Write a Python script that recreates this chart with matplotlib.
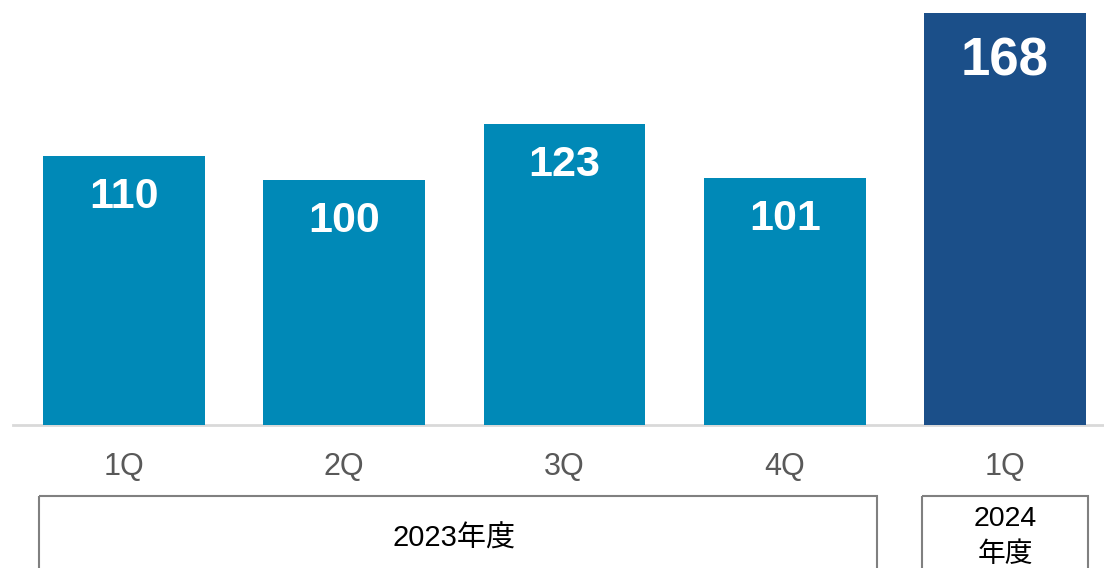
import matplotlib
matplotlib.use("Agg")
import matplotlib.pyplot as plt
from matplotlib.patches import Rectangle

plt.rcParams["font.family"] = ["Liberation Sans", "Noto Sans CJK JP"]

# ==============================
# DATA
# ==============================

quarters = ["1Q", "2Q", "3Q", "4Q", "1Q"]
values = [110, 100, 123, 101, 168]
bar_colors = ["#0089b7", "#0089b7", "#0089b7", "#0089b7", "#1b4f89"]

year_labels = [["2023年度"], ["2024", "年度"]]
year_spans = [(0, 3), (4, 4)]

# ==============================
# FIGURE
# ==============================

fig = plt.figure(figsize=(11.04, 5.68), dpi=100)
ax = fig.add_axes([0, 143 / 568, 1, 425 / 568])

x = list(range(len(values)))
ax.bar(x, values, width=0.735, color=bar_colors, zorder=2)

ax.set_xlim(-0.563, 4.4495)
ax.set_ylim(0, 173.5)
ax.axis("off")

# baseline
ax.plot([-0.504, 4.4495], [0, 0], color="#d9d9d9", lw=2, clip_on=False, zorder=1)

# value labels inside bars
for i, v in enumerate(values):
    last = i == len(values) - 1
    ax.text(i, v - (19.5 if last else 16.8), str(v), ha="center", va="center",
            color="white", fontsize=38 if last else 31, fontweight="bold")

# quarter labels
for i, q in enumerate(quarters):
    ax.text(i, -17.2, q, ha="center", va="center", color="#595959", fontsize=22)

# fiscal year boxes
box_edges = [(-0.386, 3.419), (3.623, 4.377)]
for (a, b), (left, right), lines in zip(year_spans, box_edges, year_labels):
    rect = Rectangle((left, -29.0), right - left, -40, fill=False,
                     edgecolor="#808080", lw=1.5, clip_on=False)
    ax.add_patch(rect)
    mid = (a + b) / 2
    if len(lines) == 1:
        ax.text(mid, -46.5, lines[0], ha="center", va="center",
                color="black", fontsize=21)
    else:
        ax.text(mid, -38.4, lines[0], ha="center", va="center",
                color="black", fontsize=20.5)
        ax.text(mid, -53.0, lines[1], ha="center", va="center",
                color="black", fontsize=20)

fig.savefig("out.png", dpi=100)
